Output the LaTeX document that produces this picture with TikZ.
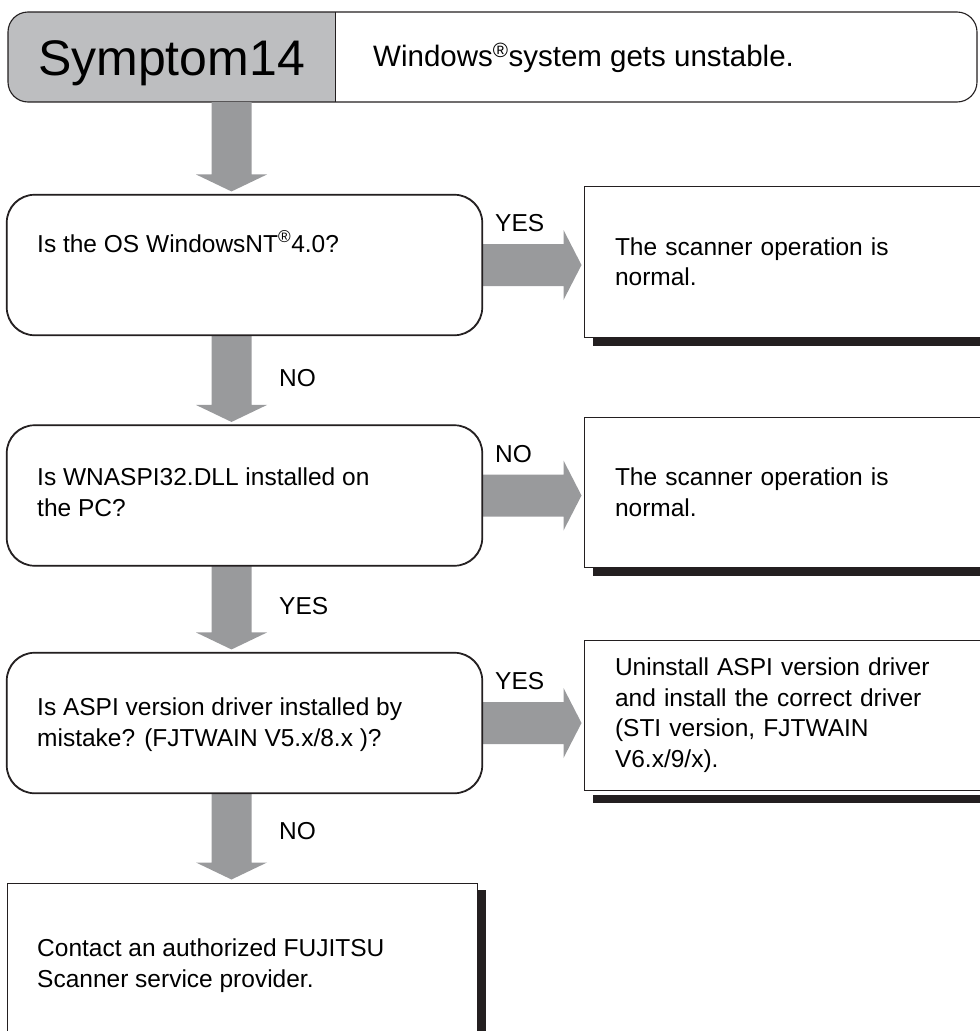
\documentclass[tikz,border=0pt]{standalone}
\usepackage{fontspec}
\setmainfont{Liberation Sans}
\usetikzlibrary{calc}
\definecolor{arrowgray}{RGB}{153,154,156}
\definecolor{headgray}{RGB}{189,190,192}
\definecolor{ink}{RGB}{35,31,32}
\newcommand\bodyfont{\fontsize{24.5}{30.5}\selectfont}
\newcommand\regsup{\textsuperscript{\textregistered}}
\newcommand\varrow[2]{\fill[arrowgray] let \p1=(#1.south), \p2=(#2.north) in
  (211.5pt,\y1) -- (251.5pt,\y1) -- (251.5pt,\y2+20pt) -- (267pt,\y2+20pt) --
  (231.5pt,\y2+3pt) -- (196pt,\y2+20pt) -- (211.5pt,\y2+20pt) -- cycle;}
\newcommand\harrow[2]{\fill[arrowgray] let \p1=(#1.east), \p2=(#2.west) in
  (\x1,\y1+21pt) -- (\x2-20pt,\y1+21pt) -- (\x2-20pt,\y1+35pt) -- (\x2-2pt,\y1) --
  (\x2-20pt,\y1-35pt) -- (\x2-20pt,\y1-21pt) -- (\x1,\y1-21pt) -- cycle;}
\begin{document}
\begin{tikzpicture}[x=1pt,y=-1pt,
  decision/.style={draw=ink, line width=1.1pt, rounded corners=28pt,
    minimum width=475pt, minimum height=140pt, inner sep=0pt},
  result/.style={draw=ink, line width=1pt, minimum width=411pt, minimum height=151pt,
    text width=349pt, inner xsep=31pt, inner ysep=0pt, align=left, font=\bodyfont},
  txt/.style={anchor=base west, inner sep=0pt, align=left, font=\bodyfont},
  lbl/.style={anchor=base west, inner sep=0pt, font=\bodyfont},
  shadow/.style={fill=ink, draw=none}]
\useasboundingbox (0,0) rectangle (980,1031);
\clip (0,0) rectangle (980,1031);
% header
\begin{scope}
  \clip[rounded corners=20pt] (8,12) rectangle (977,102);
  \fill[headgray] (8,12) rectangle (335,102);
\end{scope}
\node[minimum width=969pt, minimum height=90pt, inner sep=0pt] (head) at (492.5,57) {};
\draw[ink, line width=1.1pt, rounded corners=20pt] (8,12) rectangle (977,102);
\draw[ink, line width=0.8pt] (335,12) -- (335,102);
\node[anchor=base, inner sep=0pt, font=\fontsize{50}{60}\selectfont] (sym) at (171.5,75) {Symptom14};
\node[anchor=base west, inner sep=0pt, font=\fontsize{29.5}{34}\selectfont] (desc) at (373,66.7) {Windows\regsup system gets unstable.};

% boxes (coordinates only, drawn after arrows)
\path (244.5,265) node[decision] (b1) {}
      (244.5,495.5) node[decision] (b2) {}
      (244.5,723) node[decision] (b3) {};
\path (242,964) node[draw=ink, line width=1pt, minimum width=470pt, minimum height=162pt, inner sep=0pt] (fin) {};

% shadows
\fill[ink] (593,337) rectangle (995,346);
\fill[ink] (593,567) rectangle (995,576);
\fill[ink] (593,795) rectangle (995,803);
\fill[ink] (477,890) rectangle (486,1045);

\node[result, fill=white] (r1) at (789.5,261.5) {The scanner operation is\\normal.};
\node[result, fill=white, minimum height=150pt] (r2) at (789.5,492) {The scanner operation is\\normal.};
\node[result, fill=white, minimum height=150pt] (r3) at (789.5,715) {Uninstall ASPI version driver\\and install the correct driver\\(STI version, FJTWAIN\\V6.x/9/x).};

% arrows
\varrow{head}{b1}
\varrow{b1}{b2}
\varrow{b2}{b3}
\varrow{b3}{fin}
\harrow{b1}{r1}
\harrow{b2}{r2}
\harrow{b3}{r3}

% redraw box borders on top
\draw[ink, line width=1.1pt, rounded corners=28pt] (b1.north west) rectangle (b1.south east);
\draw[ink, line width=1.1pt, rounded corners=28pt] (b2.north west) rectangle (b2.south east);
\draw[ink, line width=1.1pt, rounded corners=28pt] (b3.north west) rectangle (b3.south east);

% texts (base = baseline of last line)
\node[txt] (q1) at (37,252) {Is the OS WindowsNT\regsup 4.0?};
\node[txt] (q2) at (37,516) {Is WNASPI32.DLL installed on\\the PC?};
\node[txt] (q3) at (37,746) {Is ASPI version driver installed by\\mistake? (FJTWAIN V5.x/8.x )?};
\node[txt] (q4) at (37,987) {Contact an authorized FUJITSU\\Scanner service provider.};

% labels
\node[lbl] (l1) at (495,231) {YES};
\node[lbl] (l2) at (279,386) {NO};
\node[lbl] (l3) at (495,462) {NO};
\node[lbl] (l4) at (279,614) {YES};
\node[lbl] (l5) at (495,689) {YES};
\node[lbl] (l6) at (279,839) {NO};
\end{tikzpicture}
\end{document}
